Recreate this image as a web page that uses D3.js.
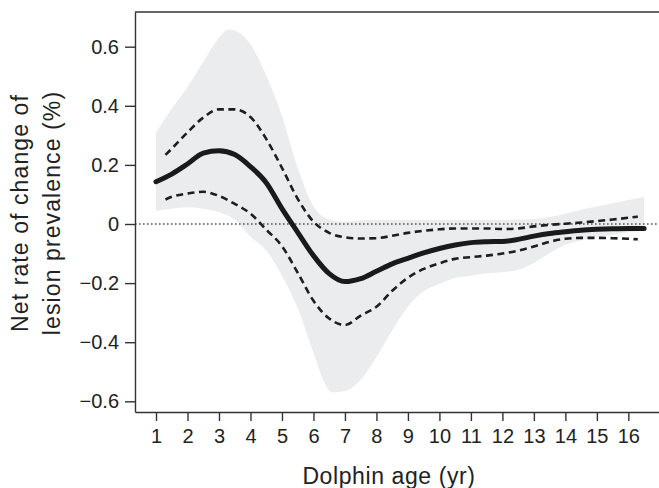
<!DOCTYPE html>
<html>
<head>
<meta charset="utf-8">
<script src="https://cdn.jsdelivr.net/npm/d3@7"></script>
<style>
  body { margin: 0; background: #fff; }
  text { font-family: "Liberation Sans", Arial, Helvetica, sans-serif; fill: #222; }
</style>
</head>
<body>
<div id="app"></div>
<script>
// ages (yr) and values (%)
const lineAges = [1, 1.5, 2, 2.5, 3, 3.5, 4, 4.5, 5, 5.5, 6, 6.5, 7, 7.5, 8, 8.5, 9, 9.5, 10, 10.5, 11, 11.5, 12, 12.5, 13, 13.5, 14, 14.5, 15, 15.5, 16, 16.5]
const meanRate = [0.143, 0.169, 0.203, 0.24, 0.248, 0.235, 0.194, 0.14, 0.052, -0.028, -0.107, -0.168, -0.195, -0.185, -0.16, -0.135, -0.116, -0.098, -0.083, -0.071, -0.063, -0.06, -0.059, -0.052, -0.041, -0.032, -0.026, -0.021, -0.018, -0.016, -0.015, -0.015]

const ciAges = [1.3, 1.5, 2, 2.5, 3, 3.5, 4, 4.5, 5, 5.5, 6, 6.5, 7, 7.5, 8, 8.5, 9, 9.5, 10, 10.5, 11, 11.5, 12, 12.5, 13, 13.5, 14, 14.5, 15, 15.5, 16, 16.3]
const ciUpper = [0.234, 0.255, 0.31, 0.36, 0.388, 0.388, 0.362, 0.288, 0.19, 0.085, 0.008, -0.03, -0.045, -0.049, -0.048, -0.04, -0.03, -0.023, -0.018, -0.015, -0.015, -0.015, -0.017, -0.015, -0.008, -0.003, 0.001, 0.005, 0.01, 0.015, 0.021, 0.025]
const ciLower = [0.083, 0.092, 0.103, 0.109, 0.095, 0.068, 0.035, -0.019, -0.075, -0.165, -0.26, -0.32, -0.342, -0.31, -0.28, -0.226, -0.182, -0.152, -0.133, -0.118, -0.112, -0.107, -0.1, -0.09, -0.076, -0.06, -0.05, -0.047, -0.047, -0.048, -0.05, -0.052]

const bandAges = [1, 1.5, 2, 2.5, 3, 3.3, 3.5, 4, 4.5, 5, 5.5, 6, 6.3, 6.6, 7, 7.5, 8, 8.5, 9, 9.5, 10, 10.5, 11, 11.5, 12, 12.5, 13, 13.5, 14, 14.5, 15, 15.5, 16, 16.5]
const bandHigh = [0.31, 0.39, 0.464, 0.548, 0.63, 0.658, 0.655, 0.608, 0.503, 0.366, 0.19, 0.06, 0.025, 0.012, 0.008, 0.012, 0.014, 0.014, 0.014, 0.014, 0.014, 0.014, 0.014, 0.014, 0.014, 0.015, 0.017, 0.024, 0.035, 0.048, 0.059, 0.07, 0.081, 0.092]
const bandLow = [0.045, 0.052, 0.057, 0.052, 0.04, 0.028, 0.015, -0.043, -0.09, -0.175, -0.285, -0.435, -0.525, -0.57, -0.565, -0.527, -0.45, -0.36, -0.28, -0.228, -0.203, -0.183, -0.175, -0.167, -0.163, -0.155, -0.132, -0.098, -0.07, -0.055, -0.045, -0.036, -0.028, -0.02]

const xTicks = [1, 2, 3, 4, 5, 6, 7, 8, 9, 10, 11, 12, 13, 14, 15, 16]
const yTicks = [-0.6, -0.4, -0.2, 0, 0.2, 0.4, 0.6]

const w = 659
const h = 488
const paddingLeft = 135
const paddingTop = 12
const axisBottom = 412

const svg = d3.select('#app')
              .append('svg')
              .attr('width', w)
              .attr('height', h)

const xScale = d3.scaleLinear()
                 .domain([0.333, 16.973])
                 .range([paddingLeft, w])
const yScale = d3.scaleLinear()
                 .domain([-0.6362, 0.7174])
                 .range([axisBottom, paddingTop])

// grey envelope
const band = bandAges.map((a, i) => ({age: a, hi: bandHigh[i], lo: bandLow[i]}))
const area = d3.area()
               .x(d => xScale(d.age))
               .y0(d => yScale(d.lo))
               .y1(d => yScale(d.hi))
               .curve(d3.curveMonotoneX)
svg.append('path')
   .datum(band)
   .attr('d', area)
   .style('fill', '#ebecee')

// zero reference line
svg.append('line')
   .attr('x1', paddingLeft)
   .attr('x2', w)
   .attr('y1', yScale(0))
   .attr('y2', yScale(0))
   .style('stroke', '#555')
   .style('stroke-width', 1.3)
   .style('stroke-dasharray', '1.6,2.4')

const line = d3.line()
               .x(d => xScale(d[0]))
               .y(d => yScale(d[1]))
               .curve(d3.curveMonotoneX)

// dashed limits
;[ciUpper, ciLower].forEach(vals => {
  svg.append('path')
     .datum(ciAges.map((a, i) => [a, vals[i]]))
     .attr('d', line)
     .style('fill', 'none')
     .style('stroke', '#1e1e1e')
     .style('stroke-width', 2.6)
     .style('stroke-dasharray', '7,4.5')
})

// mean curve
svg.append('path')
   .datum(lineAges.map((a, i) => [a, meanRate[i]]))
   .attr('d', line)
   .style('fill', 'none')
   .style('stroke', '#1a1a1a')
   .style('stroke-width', 5)
   .style('stroke-linecap', 'round')

// axes
const xAxis = d3.axisBottom(xScale)
                .tickValues(xTicks)
                .tickSize(9)
                .tickPadding(8)
                .tickSizeOuter(0)
const yAxis = d3.axisLeft(yScale)
                .tickValues(yTicks)
                .tickSize(10)
                .tickPadding(6)
                .tickSizeOuter(0)
                .tickFormat(d => d === 0 ? '0' : d3.format('.1f')(d))

const gx = svg.append('g')
              .attr('transform', 'translate(0,' + axisBottom + ')')
              .call(xAxis)
const gy = svg.append('g')
              .attr('transform', 'translate(' + paddingLeft + ',0)')
              .call(yAxis)

;[gx, gy].forEach(g => {
  g.selectAll('path, line').style('stroke', '#333').style('stroke-width', 1.4)
  g.selectAll('text')
   .style('font-size', '20px')
   .style('font-family', '"Liberation Sans", Arial, sans-serif')
   .style('fill', '#222')
})

// top frame line
svg.append('line')
   .attr('x1', paddingLeft)
   .attr('x2', w)
   .attr('y1', paddingTop)
   .attr('y2', paddingTop)
   .style('stroke', '#333')
   .style('stroke-width', 1.4)

// axis titles
svg.append('text')
   .attr('text-anchor', 'middle')
   .attr('x', 389)
   .attr('y', 484)
   .style('font-size', '23px')
   .style('letter-spacing', '0.6px')
   .text('Dolphin age (yr)')

svg.append('text')
   .attr('text-anchor', 'middle')
   .attr('transform', 'translate(28,213) rotate(-90)')
   .style('font-size', '23px')
   .style('letter-spacing', '1.1px')
   .text('Net rate of change of')

svg.append('text')
   .attr('text-anchor', 'middle')
   .attr('transform', 'translate(60,213) rotate(-90)')
   .style('font-size', '23px')
   .style('letter-spacing', '1.1px')
   .text('lesion prevalence (%)')
</script>
</body>
</html>
